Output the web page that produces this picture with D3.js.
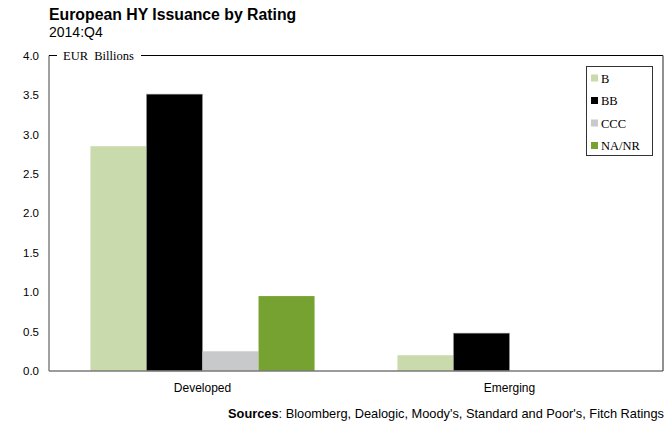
<!DOCTYPE html>
<html><head><meta charset="utf-8">
<script src="https://cdn.jsdelivr.net/npm/d3@7"></script>
<style>body{margin:0;background:#fff}svg{display:block}</style>
</head><body>
<script>
const categories = ["Developed", "Emerging"];
const series = ["B", "BB", "CCC", "NA/NR"];
const valuesB = [2.85, 0.20];
const valuesBB = [3.51, 0.48];
const valuesCCC = [0.25, 0];
const valuesNANR = [0.95, 0];
const yTicks = [0, 0.5, 1.0, 1.5, 2.0, 2.5, 3.0, 3.5, 4.0];
const colors = {"B": "#c9daac", "BB": "#000000", "CCC": "#c8c9cb", "NA/NR": "#76a232"};

const data = categories.map((c, i) => ({cat: c, vals: [
  {s: "B", v: valuesB[i]}, {s: "BB", v: valuesBB[i]}, {s: "CCC", v: valuesCCC[i]}, {s: "NA/NR", v: valuesNANR[i]}]}));

const W = 667, H = 428;
const m = {left: 49, right: 663, top: 55.5, bottom: 371};
const svg = d3.select("body").append("svg").attr("width", W).attr("height", H);

const x0 = d3.scaleBand().domain(categories).range([m.left, m.right]).paddingInner(0).paddingOuter(0);
const x1 = d3.scaleBand().domain(series).range([x0.bandwidth()*0.135, x0.bandwidth()*0.865]).padding(0);
const y = d3.scaleLinear().domain([0, 4]).range([m.bottom, m.top]);

// title
svg.append("text").attr("x", 49).attr("y", 20).attr("font-family", "Liberation Sans, Arial, sans-serif")
  .attr("font-weight", "bold").attr("font-size", 15.8).attr("fill", "#000").text("European HY Issuance by Rating");
svg.append("text").attr("x", 49).attr("y", 37).attr("font-family", "Liberation Sans, Arial, sans-serif")
  .attr("font-size", 14).attr("fill", "#000").text("2014:Q4");

// bars
const g = svg.append("g");
data.forEach(d => {
  g.selectAll(null).data(d.vals).enter().append("rect")
    .attr("x", v => x0(d.cat) + x1(v.s))
    .attr("y", v => y(v.v))
    .attr("width", x1.bandwidth())
    .attr("height", v => y(0) - y(v.v))
    .attr("fill", v => colors[v.s])
    .attr("stroke", v => v.s === "BB" && v.v > 0 ? "#999" : "none")
    .attr("stroke-width", 0.6);
});

// y axis
const yAxis = d3.axisLeft(y).tickValues(yTicks).tickFormat(d3.format(".1f")).tickSize(0).tickPadding(10);
const ya = svg.append("g").attr("transform", `translate(${m.left},0)`).call(yAxis);
ya.select(".domain").remove();
ya.selectAll("text").attr("font-family", "Liberation Sans, Arial, sans-serif").attr("font-size", 11.5).attr("fill", "#000");

svg.append("line").attr("x1", m.left).attr("x2", m.left).attr("y1", m.top).attr("y2", m.bottom)
  .attr("stroke", "#6e6e6e").attr("stroke-width", 1.3);

// x axis
const xAxis = d3.axisBottom(x0).tickSize(0).tickPadding(12);
const xa = svg.append("g").attr("transform", `translate(0,${m.bottom})`).call(xAxis);
xa.select(".domain").remove();
xa.selectAll("text").attr("font-family", "Liberation Sans, Arial, sans-serif").attr("font-size", 12).attr("fill", "#000");
svg.append("line").attr("x1", m.left).attr("x2", m.right).attr("y1", m.bottom).attr("y2", m.bottom)
  .attr("stroke", "#7a7a7a").attr("stroke-width", 1.6);

// frame: top and right
svg.append("line").attr("x1", m.left).attr("x2", 57).attr("y1", m.top).attr("y2", m.top).attr("stroke", "#000").attr("stroke-width", 1);
svg.append("line").attr("x1", 141).attr("x2", m.right).attr("y1", m.top).attr("y2", m.top).attr("stroke", "#000").attr("stroke-width", 1);
svg.append("line").attr("x1", m.right).attr("x2", m.right).attr("y1", m.top).attr("y2", m.bottom).attr("stroke", "#555").attr("stroke-width", 1.3);

svg.append("text").attr("x", 63).attr("y", 60).attr("font-family", "Liberation Serif, Times New Roman, serif")
  .attr("font-size", 12.5).attr("fill", "#000").attr("xml:space", "preserve").text("EUR\u00a0 Billions");

// legend
const lg = svg.append("g");
lg.append("rect").attr("x", 586.5).attr("y", 66.5).attr("width", 66).attr("height", 89)
  .attr("fill", "#fff").attr("stroke", "#333").attr("stroke-width", 1);
series.forEach((s, i) => {
  const cy = 78 + i * 22.5;
  lg.append("rect").attr("x", 591).attr("y", cy - 3.5).attr("width", 7).attr("height", 7).attr("fill", colors[s]);
  lg.append("text").attr("x", 601).attr("y", cy + 4.5).attr("font-family", "Liberation Serif, Times New Roman, serif")
    .attr("font-size", 12.5).attr("fill", "#000").text(s);
});

// sources
const src = svg.append("text").attr("x", 664).attr("y", 418).attr("text-anchor", "end")
  .attr("font-family", "Liberation Sans, Arial, sans-serif").attr("font-size", 12.8).attr("fill", "#000");
src.append("tspan").attr("font-weight", "bold").text("Sources");
src.append("tspan").text(": Bloomberg, Dealogic, Moody's, Standard and Poor's, Fitch Ratings");
</script>
</body></html>
